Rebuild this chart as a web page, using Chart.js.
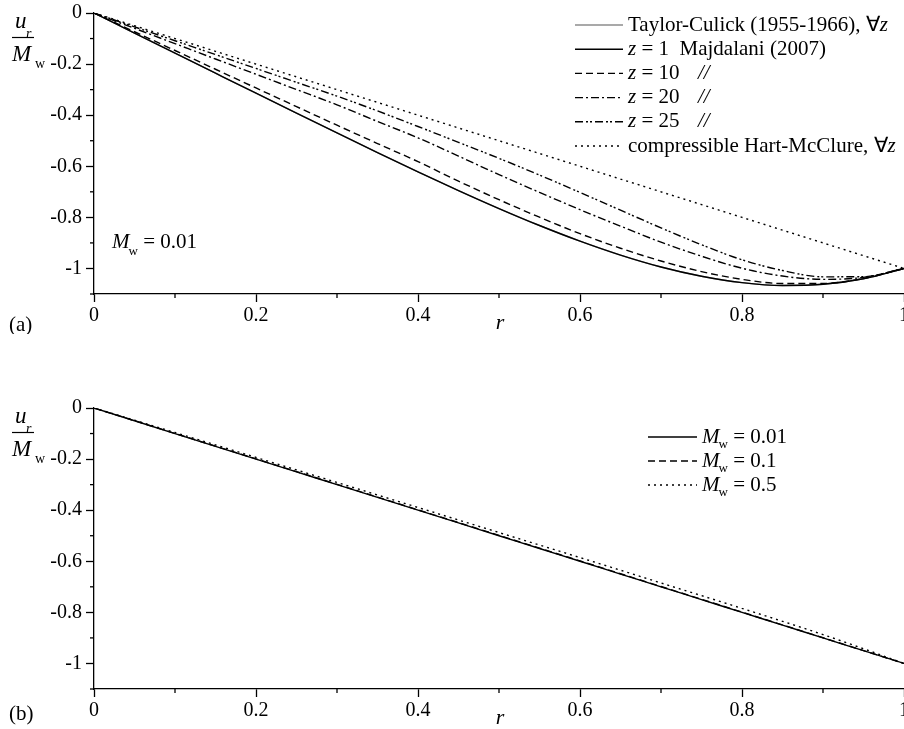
<!DOCTYPE html>
<html><head><meta charset="utf-8">
<script src="https://cdn.jsdelivr.net/npm/chart.js@4/dist/chart.umd.min.js"></script>
<style>
html,body{margin:0;padding:0;background:#fff;overflow:hidden;width:904px;height:729px}
.wrap{position:absolute;left:0;width:904px;height:334px}
</style></head><body>
<div class="wrap" style="top:0"><canvas id="topChart"></canvas></div>
<div class="wrap" style="top:395px"><canvas id="botChart"></canvas></div>
<script>
// ---- data ----
const rValues = [0,0.05,0.1,0.15,0.2,0.25,0.3,0.35,0.4,0.45,0.5,0.55,0.6,0.65,0.7,0.75,0.8,0.85,0.9,0.95,1.0];
const taylorCulick = [0,-0.0785,-0.1571,-0.2356,-0.3140,-0.3921,-0.4697,-0.5464,-0.6217,-0.6950,-0.7654,-0.8318,-0.8930,-0.9476,-0.9942,-1.0305,-1.0554,-1.0666,-1.0620,-1.0403,-1.0];
const majdalaniZ1 = [0,-0.0785,-0.1571,-0.2356,-0.3140,-0.3921,-0.4697,-0.5464,-0.6217,-0.6950,-0.7654,-0.8318,-0.8930,-0.9476,-0.9942,-1.0305,-1.0554,-1.0666,-1.0620,-1.0403,-1.0];
const majdalaniZ10 = [0,-0.0734,-0.1468,-0.2202,-0.2935,-0.3665,-0.4392,-0.5110,-0.5818,-0.6582,-0.7309,-0.7994,-0.8637,-0.9208,-0.9707,-1.0123,-1.0426,-1.0590,-1.0588,-1.0394,-1.0];
const majdalaniZ20 = [0,-0.0600,-0.1200,-0.1800,-0.2399,-0.2997,-0.3594,-0.4246,-0.4887,-0.5602,-0.6327,-0.7022,-0.7699,-0.8345,-0.8971,-0.9520,-0.9992,-1.0298,-1.0426,-1.0349,-1.0];
const majdalaniZ25 = [0,-0.0543,-0.1086,-0.1628,-0.2171,-0.2713,-0.3255,-0.3834,-0.4443,-0.5063,-0.5690,-0.6345,-0.7025,-0.7720,-0.8412,-0.9071,-0.9660,-1.0081,-1.0328,-1.0322,-1.0];
const hartMcClure = [0,-0.05,-0.10,-0.15,-0.20,-0.25,-0.30,-0.35,-0.40,-0.45,-0.50,-0.55,-0.60,-0.65,-0.70,-0.75,-0.80,-0.85,-0.90,-0.95,-1.0];

const mw001 = [0,-0.05,-0.10,-0.15,-0.20,-0.25,-0.30,-0.35,-0.40,-0.45,-0.50,-0.55,-0.60,-0.65,-0.70,-0.75,-0.80,-0.85,-0.90,-0.95,-1.0];
const mw01 = [0,-0.0498,-0.0996,-0.1494,-0.1992,-0.2490,-0.2989,-0.3488,-0.3987,-0.4486,-0.4986,-0.5486,-0.5986,-0.6487,-0.6988,-0.7489,-0.7990,-0.8492,-0.8994,-0.9497,-1.0];
const mw05 = [0,-0.0475,-0.0960,-0.1445,-0.1935,-0.2425,-0.2915,-0.3405,-0.3895,-0.4385,-0.4875,-0.5365,-0.5855,-0.6350,-0.6850,-0.7345,-0.7845,-0.8350,-0.8870,-0.9425,-1.0];

const xTickLabels = ['0','0.2','0.4','0.6','0.8','1'];
const yTickLabels = ['0','-0.2','-0.4','-0.6','-0.8','-1'];
const topLegend = [
  [{t:'Taylor-Culick (1955-1966), \u2200'},{t:'z',it:true}],
  [{t:'z',it:true},{t:' = 1  Majdalani (2007)'}],
  [{t:'z',it:true},{t:' = 10'},{t:'//',it:true,at:698}],
  [{t:'z',it:true},{t:' = 20'},{t:'//',it:true,at:698}],
  [{t:'z',it:true},{t:' = 25'},{t:'//',it:true,at:698}],
  [{t:'compressible Hart-McClure, \u2200'},{t:'z',it:true}]
];
const botLegend = [
  [{t:'M',it:true},{t:'w',size:13,dy:8,dx:-1},{t:' = 0.01'}],
  [{t:'M',it:true},{t:'w',size:13,dy:8,dx:-1},{t:' = 0.1'}],
  [{t:'M',it:true},{t:'w',size:13,dy:8,dx:-1},{t:' = 0.5'}]
];

const FONT = '"Liberation Serif", "Times New Roman", serif';
const pts = arr => arr.map((v,i)=>({x:rValues[i], y:v}));

function ds(data, color, dash, order){
  return {data: pts(data), borderColor: color, borderWidth: 1.4, borderDash: dash,
          pointRadius: 0, fill: false, cubicInterpolationMode: 'monotone', order: order||0};
}

function drawRuns(ctx, x, y, parts){
  for (const p of parts){
    const size = p.size || 21;
    ctx.font = (p.it ? 'italic ' : '') + size + 'px ' + FONT;
    if (p.at !== undefined) x = p.at;
    x += (p.dx || 0);
    ctx.fillText(p.t, x, y + (p.dy || 0));
    x += ctx.measureText(p.t).width;
  }
  return x;
}

function makePlugin(cfg){
  return {
    id: 'deco',
    afterDraw(chart){
      const ctx = chart.ctx, xs = chart.scales.x, ys = chart.scales.y, a = chart.chartArea;
      ctx.save();
      ctx.strokeStyle = '#000'; ctx.lineWidth = 1.3; ctx.setLineDash([]);
      for (let k=1;k<10;k+=2){
        const px = xs.getPixelForValue(k/10);
        ctx.beginPath(); ctx.moveTo(px, a.bottom); ctx.lineTo(px, a.bottom+4); ctx.stroke();
      }
      for (let k=1;k<=11;k+=2){
        const py = ys.getPixelForValue(-k/10);
        ctx.beginPath(); ctx.moveTo(a.left-4, py); ctx.lineTo(a.left, py); ctx.stroke();
      }
      ctx.fillStyle = '#000'; ctx.textBaseline = 'middle'; ctx.textAlign = 'left';
      cfg.legend.forEach((row,i)=>{
        const y = cfg.legY + i*cfg.legStep;
        const d = chart.data.datasets[cfg.legDs[i]];
        ctx.strokeStyle = d.borderColor; ctx.lineWidth = 1.4;
        ctx.setLineDash(d.borderDash || []);
        ctx.beginPath(); ctx.moveTo(cfg.legX0, y); ctx.lineTo(cfg.legX1, y); ctx.stroke();
        ctx.setLineDash([]);
        ctx.fillStyle = '#000';
        drawRuns(ctx, cfg.legX1 + 5, y, row);
      });
      const z0 = a.top;
      ctx.font = 'italic 23px ' + FONT;
      ctx.fillText('u', 15, z0 + 9);
      ctx.font = 'italic 14px ' + FONT;
      ctx.fillText('r', 26, z0 + 21);
      ctx.strokeStyle = '#000'; ctx.lineWidth = 1.2;
      ctx.beginPath(); ctx.moveTo(12, z0 + 24.5); ctx.lineTo(34, z0 + 24.5); ctx.stroke();
      ctx.font = 'italic 23px ' + FONT;
      ctx.fillText('M', 12, z0 + 42);
      ctx.font = '14px ' + FONT;
      ctx.fillText('w', 35, z0 + 51);
      ctx.font = 'italic 22px ' + FONT; ctx.textAlign = 'center';
      ctx.fillText('r', 500, a.bottom + 29);
      ctx.textAlign = 'left';
      ctx.font = '21px ' + FONT;
      ctx.fillText(cfg.panel, 9, a.bottom + cfg.panelDy);
      if (cfg.note){
        drawRuns(ctx, 112, ys.getPixelForValue(-0.9), cfg.note);
      }
      ctx.restore();
    }
  };
}

function makeOptions(){
  return {
    responsive: true, maintainAspectRatio: false, animation: false,
    layout: {padding: {top: 13, left: 0, right: 0, bottom: 0}},
    plugins: {legend: {display: false}, tooltip: {enabled: false}},
    scales: {
      x: {type: 'linear', min: 0, max: 1,
        ticks: {stepSize: 0.1, autoSkip: false, maxRotation: 0, padding: 2, color: '#000',
          font: {family: FONT, size: 20},
          callback: v => { const k = Math.round(v*10); return k%2 ? '' : xTickLabels[k/2]; }},
        grid: {display: true, drawOnChartArea: false, drawTicks: true, tickLength: 8, tickWidth: 1.3,
          tickColor: c => (Math.round(c.tick.value*10)%2 ? 'rgba(0,0,0,0)' : '#000')},
        border: {display: true, color: '#000', width: 1.3},
        afterFit: s => { s.height = 40; s.paddingLeft = 0; s.paddingRight = 0; }
      },
      y: {type: 'linear', min: -1.1, max: 0,
        ticks: {stepSize: 0.1, autoSkip: false, padding: 4, color: '#000',
          font: {family: FONT, size: 20},
          callback: v => { const k = Math.round(-v*10); return k%2 ? '' : yTickLabels[k/2]; }},
        grid: {display: true, drawOnChartArea: false, drawTicks: true, tickLength: 8, tickWidth: 1.3,
          tickColor: c => (Math.round(c.tick.value*10)%2 ? 'rgba(0,0,0,0)' : '#000')},
        border: {display: true, color: '#000', width: 1.3},
        afterFit: s => { s.width = 94; s.paddingTop = 0; s.paddingBottom = 0; }
      }
    }
  };
}

new Chart(document.getElementById('topChart'), {
  type: 'line',
  data: {datasets: [
    ds(taylorCulick, '#8c8c8c', [], 10),
    ds(majdalaniZ1, '#000', [], 0),
    ds(majdalaniZ10, '#000', [7,4], 0),
    ds(majdalaniZ20, '#000', [8,3,2,3], 0),
    ds(majdalaniZ25, '#000', [8,3,2,2,2,3], 0),
    ds(hartMcClure, '#000', [2,4], 0)
  ]},
  options: makeOptions(),
  plugins: [makePlugin({legend: topLegend, legDs: [0,1,2,3,4,5], legX0: 575, legX1: 623, legY: 25, legStep: 24.2,
    panel: '(a)', panelDy: 31,
    note: [{t:'M',it:true},{t:'w',size:13,dy:9,dx:-1},{t:' = 0.01'}]})]
});

new Chart(document.getElementById('botChart'), {
  type: 'line',
  data: {datasets: [
    ds(mw001, '#000', [], 0),
    ds(mw01, '#000', [7,4], 0),
    ds(mw05, '#000', [2,4], 0)
  ]},
  options: makeOptions(),
  plugins: [makePlugin({legend: botLegend, legDs: [0,1,2], legX0: 648, legX1: 697, legY: 42, legStep: 24,
    panel: '(b)', panelDy: 25})]
});
</script>
</body></html>
